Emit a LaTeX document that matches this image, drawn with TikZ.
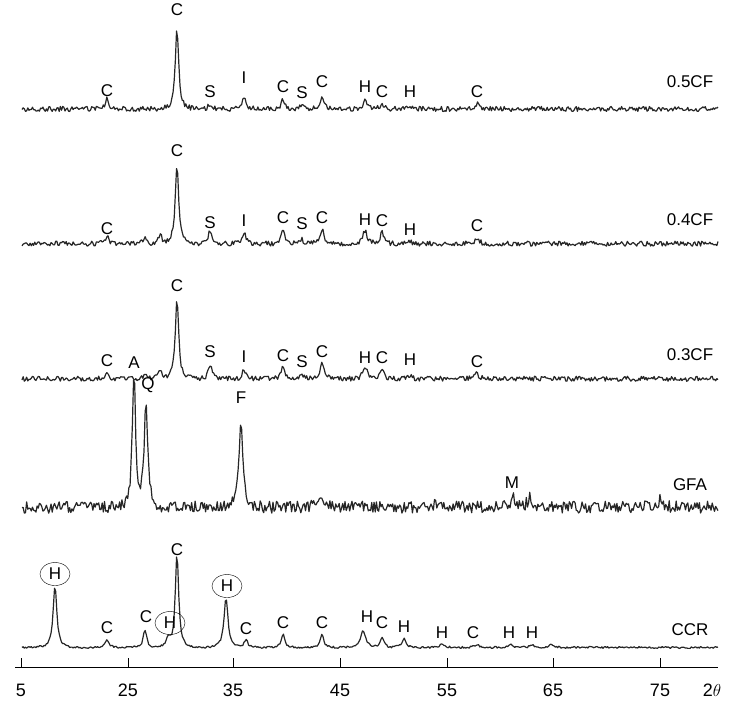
\documentclass[tikz,border=0pt]{standalone}
\usepackage{fontspec}
\setmainfont{Liberation Sans}
\usetikzlibrary{shapes.geometric}
\begin{document}
\begin{tikzpicture}[x=1pt,y=-1pt,
  declare function={pk(\x,\c,\h,\w)=\h/(1+(min(abs(\x-\c),25)/\w)^2);},
  trace/.style={line width=1.2pt,black!85,line join=round},
  lab/.style={font=\fontsize{17}{17}\selectfont,inner sep=0pt},
  tick/.style={font=\fontsize{18}{18}\selectfont,inner sep=0pt}]
\useasboundingbox (0,0) rectangle (730,702);
\pgfmathsetseed{7}
% 0.5CF
\draw[trace] plot[domain=22:718,samples=600] (\x,{110+2.5*rand-pk(\x,107,11,2)-pk(\x,177,82,2)-pk(\x,210,5,2)-pk(\x,244,13,2.2)-pk(\x,283,9,2)-pk(\x,302,4,2)-pk(\x,322,13,2)-pk(\x,365,8,2.5)-pk(\x,382,6,2)-pk(\x,410,3,2)-pk(\x,477,5,2)});
% 0.4CF
\draw[trace] plot[domain=22:718,samples=600] (\x,{245+2.5*rand-pk(\x,107,7,2)-pk(\x,145,5,2)-pk(\x,160,9,2)-pk(\x,177,82,2)-pk(\x,210,14,2)-pk(\x,244,12,2)-pk(\x,283,13,2)-pk(\x,302,4,2)-pk(\x,322,15,2.2)-pk(\x,365,13,2.5)-pk(\x,382,11,2)-pk(\x,410,3,2)-pk(\x,477,7,2)});
% 0.3CF
\draw[trace] plot[domain=22:718,samples=600] (\x,{380+2.5*rand-pk(\x,107,5,2)-pk(\x,145,6,2)-pk(\x,160,8,2)-pk(\x,177,80,2)-pk(\x,210,15,2)-pk(\x,244,10,2)-pk(\x,283,12,2)-pk(\x,302,3,2)-pk(\x,322,15,2.2)-pk(\x,365,12,2.5)-pk(\x,382,10,2)-pk(\x,410,3,2)-pk(\x,477,6,2)});
% GFA
\draw[trace] plot[domain=22:718,samples=600] (\x,{510+6*rand-pk(\x,134,132,2)-pk(\x,146,108,2)-pk(\x,241,92,2.2)-pk(\x,320,10,3)-pk(\x,440,8,3)-pk(\x,513,12,2)-pk(\x,530,10,3)-pk(\x,660,8,3)});
% CCR
\draw[trace] plot[domain=22:718,samples=600] (\x,{650+1*rand-pk(\x,55,62,2.2)-pk(\x,107,7,2.5)-pk(\x,145,18,2)-pk(\x,168,9,2.2)-pk(\x,177,95,2)-pk(\x,226,50,2.4)-pk(\x,246,8,2)-pk(\x,283,13,2)-pk(\x,322,13,2)-pk(\x,363,17,3)-pk(\x,382,11,2)-pk(\x,404,9,2.5)-pk(\x,442,4,2.5)-pk(\x,477,3,2.5)-pk(\x,510,3,2.5)-pk(\x,532,3,2.5)-pk(\x,552,3,2.5)});
\foreach \t/\xx/\yy in {C/107/91,C/177/10,S/210/92,I/244/78,C/283/87,S/302/93,C/322/82,H/365/87,C/382/92,H/410/92,C/477/92}
  \node[lab] (l5\xx) at (\xx,\yy) {\t};
\node[lab] (n5) at (690,82) {0.5CF};
\foreach \t/\xx/\yy in {C/107/229,C/177/151,S/210/223,I/244/221,C/283/218,S/302/224,C/322/218,H/365/220,C/382/221,H/410/230,C/477/226}
  \node[lab] (l4\xx) at (\xx,\yy) {\t};
\node[lab] (n4) at (690,220) {0.4CF};
\foreach \t/\xx/\yy in {C/107/361,C/177/286,S/210/352,I/244/357,C/283/356,S/302/362,C/322/352,H/365/358,C/382/358,H/410/360,C/477/362}
  \node[lab] (l3\xx) at (\xx,\yy) {\t};
\node[lab] (n3) at (690,355) {0.3CF};
\node[lab] (la) at (134,363) {A};
\node[lab] (lq) at (148,385) {Q};
\node[lab] (lf) at (241,398) {F};
\node[lab] (lm) at (512,483) {M};
\node[lab] (ng) at (690,485) {GFA};
\foreach \t/\xx/\yy in {C/107/628,C/146/617,C/177/550,C/246/629,C/283/623,C/322/623,H/367/617,C/382/623,H/404/627,H/442/633,C/473/633,H/509/633,H/532/633}
  \node[lab] (lc\xx) at (\xx,\yy) {\t};
\node[lab] (nc) at (690,630) {CCR};
\foreach \xx/\yy in {55/574,170/623,227/586}
  \node[lab,draw,ellipse,minimum width=30pt,minimum height=23pt] (e\xx) at (\xx,\yy) {H};
% axis
\coordinate (a0) at (15,667); \coordinate (a1) at (718,667);
\draw[line width=0.8pt] (a0) -- (a1);
\foreach \xx/\t in {21/5,128/25,233/35,340/45,447/55,553/65,660/75}{
  \draw[line width=0.8pt] (\xx,667) -- (\xx,658);
  \node[tick] (t\xx) at (\xx,690) {\t};}
\node[tick] (tt) at (712,690) {2$\theta$};
\end{tikzpicture}
\end{document}
